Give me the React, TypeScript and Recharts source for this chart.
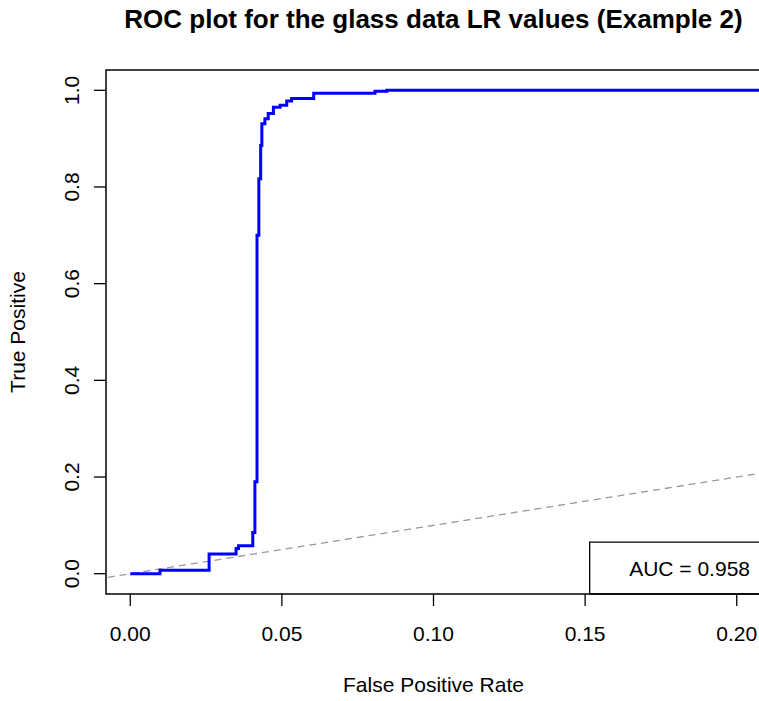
import {
  LineChart,
  Line,
  XAxis,
  YAxis,
  ReferenceLine,
  ReferenceArea,
} from "recharts";

// ROC curve points (false positive rate, true positive rate)
const fpr = [
  0, 0.0098, 0.026, 0.0349, 0.0357, 0.0404, 0.0411, 0.0418, 0.0424, 0.043,
  0.0434, 0.0444, 0.0455, 0.0472, 0.0494, 0.0516, 0.0532, 0.0605, 0.0807,
  0.0846, 1,
];
const tpr = [
  0, 0.007, 0.041, 0.052, 0.058, 0.085, 0.19, 0.7, 0.817, 0.886, 0.931, 0.941,
  0.952, 0.965, 0.969, 0.978, 0.983, 0.994, 0.998, 1, 1,
];

const xTicks = [0, 0.05, 0.1, 0.15, 0.2];
const yTicks = [0, 0.2, 0.4, 0.6, 0.8, 1];
const xDomain = [-0.008, 0.208];
const yDomain = [-0.042, 1.042];

// chance diagonal (abline 0,1)
const chanceLine = [
  { x: -1, y: -1 },
  { x: 1, y: 1 },
];

const auc = 0.958;
const aucBox = { x1: 0.1515, y2: 0.0654 };

const title = "ROC plot for the glass data LR values (Example 2)";
const xTitle = "False Positive Rate";
const yTitle = "True Positive";

const rocData = fpr.map((x, i) => ({ x, y: tpr[i] }));

const FONT = '"Liberation Sans", Arial, sans-serif';

function XTick(props: any) {
  const { x, y, payload } = props;
  return (
    <text x={x} y={y + 35} textAnchor="middle" fontSize={21} fontFamily={FONT} fill="#000">
      {Number(payload.value).toFixed(2)}
    </text>
  );
}

function YTick(props: any) {
  const { x, y, payload } = props;
  return (
    <text
      transform={`translate(${x - 15}, ${y}) rotate(-90)`}
      textAnchor="middle"
      fontSize={21}
      fontFamily={FONT}
      fill="#000"
    >
      {Number(payload.value).toFixed(1)}
    </text>
  );
}

export default function App() {
  return (
    <div
      style={{
        position: "absolute",
        left: 0,
        top: 0,
        width: 759,
        height: 701,
        overflow: "hidden",
        background: "#fff",
      }}
    >
      <div
        style={{
          position: "absolute",
          left: 106,
          width: 655,
          top: 7,
          lineHeight: "25px",
          textAlign: "center",
          fontFamily: FONT,
          fontWeight: "bold",
          fontSize: 26,
          color: "#000",
          whiteSpace: "nowrap",
        }}
      >
        {title}
      </div>
      <LineChart
        width={800}
        height={701}
        margin={{ top: 70, right: 39, bottom: 0, left: 0 }}
      >
        <XAxis
          dataKey="x"
          type="number"
          domain={xDomain}
          allowDataOverflow
          ticks={xTicks}
          interval={0}
          height={107}
          axisLine={false}
          tickSize={12}
          tickMargin={0}
          tickLine={{ stroke: "#000", strokeWidth: 1.3 }}
          tick={<XTick />}
          label={(p: any) => {
            const vb = p.viewBox;
            return (
              <text
                x={vb.x + vb.width / 2}
                y={vb.y + 98}
                textAnchor="middle"
                fontSize={21}
                fontFamily={FONT}
                fill="#000"
              >
                {xTitle}
              </text>
            );
          }}
        />
        <YAxis
          dataKey="y"
          type="number"
          domain={yDomain}
          allowDataOverflow
          ticks={yTicks}
          interval={0}
          width={106}
          axisLine={false}
          tickSize={12}
          tickMargin={0}
          tickLine={{ stroke: "#000", strokeWidth: 1.3 }}
          tick={<YTick />}
          label={(p: any) => {
            const vb = p.viewBox;
            return (
              <text
                transform={`translate(${vb.x + 25}, ${vb.y + vb.height / 2}) rotate(-90)`}
                textAnchor="middle"
                fontSize={21}
                fontFamily={FONT}
                fill="#000"
              >
                {yTitle}
              </text>
            );
          }}
        />
        <ReferenceLine
          segment={chanceLine}
          ifOverflow="hidden"
          stroke="#999"
          strokeWidth={1.3}
          strokeDasharray="7 5"
        />
        <Line
          data={rocData}
          dataKey="y"
          type="stepAfter"
          stroke="#0000ff"
          strokeWidth={3}
          dot={false}
          activeDot={false}
          isAnimationActive={false}
        />
        <ReferenceArea
          x1={aucBox.x1}
          x2={xDomain[1]}
          y1={yDomain[0]}
          y2={aucBox.y2}
          ifOverflow="visible"
          fill="#fff"
          fillOpacity={1}
          stroke="#000"
          strokeWidth={1.3}
          label={(p: any) => {
            const vb = p.viewBox;
            return (
              <text
                x={vb.x + vb.width - 11}
                y={vb.y + vb.height / 2 + 7.5}
                textAnchor="end"
                fontSize={21}
                fontFamily={FONT}
                fill="#000"
              >
                {`AUC = ${auc}`}
              </text>
            );
          }}
        />
        <ReferenceArea
          x1={xDomain[0]}
          x2={xDomain[1]}
          y1={yDomain[0]}
          y2={yDomain[1]}
          ifOverflow="visible"
          fill="none"
          stroke="#000"
          strokeWidth={1.5}
        />
      </LineChart>
    </div>
  );
}
